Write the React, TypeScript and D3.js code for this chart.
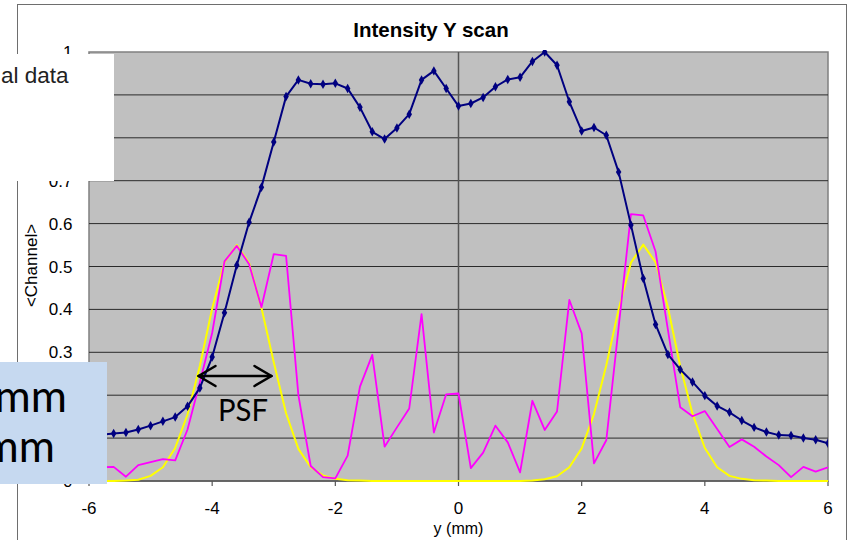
import React from "react";
import * as d3 from "d3";

const xs = [
  -6.0, -5.8, -5.6, -5.4, -5.2, -5.0, -4.8, -4.6, -4.4, -4.2,
  -4.0, -3.8, -3.6, -3.4, -3.2, -3.0, -2.8, -2.6, -2.4, -2.2,
  -2.0, -1.8, -1.6, -1.4, -1.2, -1.0, -0.8, -0.6, -0.4, -0.2,
  0.0, 0.2, 0.4, 0.6, 0.8, 1.0, 1.2, 1.4, 1.6, 1.8,
  2.0, 2.2, 2.4, 2.6, 2.8, 3.0, 3.2, 3.4, 3.6, 3.8,
  4.0, 4.2, 4.4, 4.6, 4.8, 5.0, 5.2, 5.4, 5.6, 5.8, 6.0,
];

const experimental = [
  0.105, 0.108, 0.111, 0.113, 0.12, 0.129, 0.139, 0.149, 0.174, 0.217,
  0.289, 0.392, 0.503, 0.603, 0.685, 0.79, 0.896, 0.935, 0.926, 0.925,
  0.927, 0.915, 0.871, 0.814, 0.797, 0.823, 0.855, 0.935, 0.956, 0.915,
  0.874, 0.88, 0.894, 0.919, 0.936, 0.941, 0.978, 1.0, 0.969, 0.884,
  0.816, 0.824, 0.806, 0.72, 0.597, 0.472, 0.365, 0.295, 0.26, 0.231,
  0.199, 0.175, 0.16, 0.141, 0.125, 0.114, 0.107, 0.106, 0.1, 0.096, 0.088,
];

const derivative = [
  0.03, 0.032, 0.033, 0.01, 0.037, 0.044, 0.051, 0.048, 0.12, 0.23,
  0.345, 0.512, 0.548, 0.505, 0.405, 0.529, 0.525, 0.2, 0.035, 0.009,
  0.006, 0.059, 0.22, 0.294, 0.08, 0.125, 0.169, 0.389, 0.113, 0.202,
  0.204, 0.03, 0.066, 0.129, 0.09, 0.02, 0.187, 0.119, 0.162, 0.422,
  0.344, 0.041, 0.095, 0.358, 0.622, 0.619, 0.535, 0.353, 0.172, 0.151,
  0.163, 0.121, 0.079, 0.097, 0.08, 0.057, 0.037, 0.009, 0.033, 0.022, 0.032,
];

const psfFit = [
  0.0, 0.0, 0.0, 0.001, 0.003, 0.012, 0.032, 0.077, 0.155, 0.268,
  0.402, 0.51, 0.55, 0.508, 0.404, 0.277, 0.158, 0.075, 0.032, 0.013,
  0.005, 0.002, 0.001, 0.0, 0.0, 0.0, 0.0, 0.0, 0.0, 0.0,
  0.0, 0.0, 0.0, 0.0, 0.0, 0.0, 0.001, 0.004, 0.011, 0.032,
  0.076, 0.156, 0.27, 0.4, 0.509, 0.551, 0.51, 0.405, 0.268, 0.157,
  0.077, 0.032, 0.012, 0.005, 0.002, 0.001, 0.0, 0.0, 0.0, 0.0, 0.0,
];

const xTicks = [-6, -4, -2, 0, 2, 4, 6];
const yTicks = [0, 0.1, 0.2, 0.3, 0.4, 0.5, 0.6, 0.7, 0.8, 0.9, 1];
const yTickLabels = ["0", "0.1", "0.2", "0.3", "0.4", "0.5", "0.6", "0.7", "0.8", "0.9", "1"];

const title = "Intensity Y scan";
const xTitle = "y (mm)";
const yTitle = "<Channel>";
const legendText = "al data";
const boxLines = ["mm", "mm"];
const psfLabel = "PSF";

export default function App() {
  const W = 852;
  const H = 540;
  const left = 89;
  const right = 828;
  const top = 52;
  const bottom = 481;

  const x = d3.scaleLinear().domain([-6, 6]).range([left, right]);
  const y = d3.scaleLinear().domain([0, 1]).range([bottom, top]);

  const mk = (vals: number[]) =>
    d3
      .line<number>()
      .x((_, i) => x(xs[i]))
      .y((d) => y(d))(vals) as string;

  const diamond = d3.symbol(d3.symbolDiamond, 26)() as string;
  const font = "'Liberation Sans', Arial, sans-serif";
  const bigFont = "Lato, 'Open Sans', sans-serif";

  // overlay boxes (white legend fragment box and blue note box)
  const whiteBox = { x: 0, y: 54, w: 114, h: 127 };
  const blueBox = { x: 0, y: 362, w: 107, h: 122 };
  const hidden = (py: number) =>
    (py - 7 > whiteBox.y && py + 7 < whiteBox.y + whiteBox.h) ||
    (py - 7 > blueBox.y && py + 7 < blueBox.y + blueBox.h);

  const arrowY = 376;
  const aL = 198.5;
  const aR = 271.5;

  return (
    <svg
      width={W}
      height={H}
      style={{ position: "absolute", left: 0, top: 0, background: "#fff" }}
      xmlns="http://www.w3.org/2000/svg"
    >
      <defs>
        <clipPath id="plotClip">
          <rect x={left} y={top - 2} width={right - left} height={bottom - top + 4} />
        </clipPath>
        <clipPath id="blueClip">
          <rect x={blueBox.x} y={blueBox.y} width={blueBox.w} height={blueBox.h} />
        </clipPath>
      </defs>
      <rect x={0} y={0} width={W} height={H} fill="#fff" />
      {/* chart area border */}
      <rect x={17.5} y={4.5} width={829} height={H + 10} fill="#fff" stroke="#6e6e6e" strokeWidth={1} />

      <text x={431} y={36.5} textAnchor="middle" fontFamily={font} fontWeight="bold" fontSize={20.5} fill="#000">
        {title}
      </text>

      {/* plot area */}
      <rect x={left} y={top} width={right - left} height={bottom - top} fill="#c0c0c0" stroke="#808080" strokeWidth={1.5} />
      {yTicks.slice(1, -1).map((t) => (
        <line key={t} x1={left} x2={right} y1={y(t)} y2={y(t)} stroke="#2a2a2a" strokeWidth={1} />
      ))}
      <line x1={left} x2={right} y1={y(0)} y2={y(0)} stroke="#555" strokeWidth={1.5} />
      <line x1={x(0)} x2={x(0)} y1={top} y2={bottom} stroke="#555" strokeWidth={1.5} />
      {xTicks.map((t) => (
        <line key={t} x1={x(t)} x2={x(t)} y1={bottom} y2={bottom + 5} stroke="#555" strokeWidth={1.2} />
      ))}

      <g clipPath="url(#plotClip)">
        <path d={mk(psfFit)} fill="none" stroke="#ffff00" strokeWidth={2} strokeLinejoin="round" />
        <path d={mk(derivative)} fill="none" stroke="#ff00ff" strokeWidth={1.8} strokeLinejoin="round" />
        <path d={mk(experimental)} fill="none" stroke="#000080" strokeWidth={2} strokeLinejoin="round" />
        {experimental.map((v, i) => (
          <path key={i} d={diamond} transform={`translate(${x(xs[i])},${y(v)})`} fill="#000080" />
        ))}
      </g>

      {/* axis labels */}
      {yTicks.map((t, i) =>
        hidden(y(t)) ? null : (
          <text key={t} x={72.5} y={y(t) + 6} textAnchor="end" fontFamily={font} fontSize={17} fill="#000">
            {yTickLabels[i]}
          </text>
        )
      )}
      {xTicks.map((t) => (
        <text key={t} x={x(t)} y={513.5} textAnchor="middle" fontFamily={font} fontSize={17} fill="#000">
          {String(t)}
        </text>
      ))}
      <text x={x(0)} y={533.5} textAnchor="middle" fontFamily={font} fontSize={16} fill="#000">
        {xTitle}
      </text>
      <text
        transform={`translate(37,${265.5}) rotate(-90)`}
        textAnchor="middle"
        fontFamily={font}
        fontSize={17}
        fill="#000"
      >
        {yTitle}
      </text>

      {/* white overlay box with legend fragment */}
      <rect x={whiteBox.x} y={whiteBox.y} width={whiteBox.w} height={whiteBox.h} fill="#fff" />
      <text x={68.5} y={83} textAnchor="end" fontFamily={font} fontSize={22.5} fill="#222">
        {legendText}
      </text>

      {/* blue note box */}
      <rect x={blueBox.x} y={blueBox.y} width={blueBox.w} height={blueBox.h} fill="#c6d9f0" />
      <g clipPath="url(#blueClip)">
        <text x={67} y={411.5} textAnchor="end" fontFamily={bigFont} fontSize={44} fill="#000">
          {boxLines[0]}
        </text>
        <text x={55} y={461.5} textAnchor="end" fontFamily={bigFont} fontSize={44} fill="#000">
          {boxLines[1]}
        </text>
      </g>

      {/* PSF arrow */}
      <g stroke="#000" strokeWidth={2.5} fill="none" strokeLinecap="round" strokeLinejoin="round">
        <line x1={aL} x2={aR} y1={arrowY} y2={arrowY} />
        <polyline points={`${aL + 17},${arrowY - 10} ${aL},${arrowY} ${aL + 17},${arrowY + 10}`} />
        <polyline points={`${aR - 17},${arrowY - 10} ${aR},${arrowY} ${aR - 17},${arrowY + 10}`} />
      </g>
      <text x={243} y={420.5} textAnchor="middle" fontFamily={bigFont} fontSize={31} fill="#000" textLength={50} lengthAdjust="spacingAndGlyphs">
        {psfLabel}
      </text>
    </svg>
  );
}
